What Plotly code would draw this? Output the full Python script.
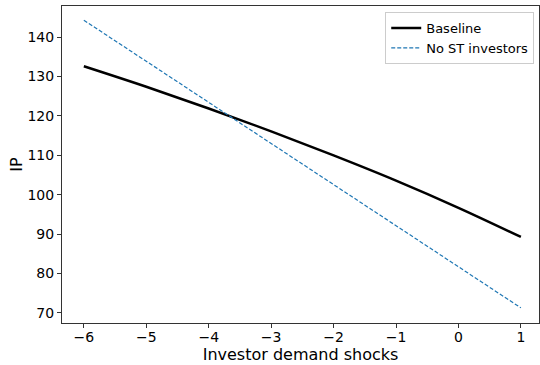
import plotly.graph_objects as go

shocks = [-6, -5, -4, -3, -2, -1, 0, 1]
baseline = [132.6, 127.4, 121.9, 116.1, 110.0, 103.6, 96.7, 89.3]
no_st = [144.3, 133.87, 123.44, 113.01, 102.59, 92.16, 81.73, 71.3]
xticks = [-6, -5, -4, -3, -2, -1, 0, 1]
yticks = [70, 80, 90, 100, 110, 120, 130, 140]

fig = go.Figure()
fig.add_trace(go.Scatter(x=shocks, y=baseline, mode="lines", name="Baseline",
                         line=dict(color="black", width=2.5, shape="spline")))
fig.add_trace(go.Scatter(x=shocks, y=no_st, mode="lines", name="No ST investors",
                         line=dict(color="#1f77b4", width=1.2, dash="4px,2px")))

axis_common = dict(showgrid=False, zeroline=False, showline=True, linecolor="#333333",
                   linewidth=1, mirror=True, ticks="outside", ticklen=4,
                   tickcolor="#333333", tickfont=dict(size=14, color="black"))
fig.update_xaxes(range=[-6.35, 1.29], tickvals=xticks,
                 ticktext=[("\u2212" + str(-v)) if v < 0 else str(v) for v in xticks],
                 title=dict(text="Investor demand shocks", font=dict(size=16, color="black"), standoff=2),
                 automargin=False, ticklabelstandoff=-3,
                 **axis_common)
fig.update_yaxes(range=[67.46, 147.9], tickvals=yticks,
                 title=dict(text="IP", font=dict(size=16, color="black"), standoff=0),
                 automargin=True,
                 **axis_common)
fig.update_layout(width=540, height=365, margin=dict(l=62, r=1, t=6, b=42, autoexpand=False),
                  paper_bgcolor="white", plot_bgcolor="white",
                  font=dict(family="DejaVu Sans", color="black"),
                  legend=dict(x=0.99, y=0.981, xanchor="right", yanchor="top",
                              bordercolor="#cccccc", borderwidth=1, bgcolor="white",
                              font=dict(size=13), tracegroupgap=0),
                  showlegend=True)
fig.write_html("out.html", config={"displayModeBar": False},
               post_script="document.body.style.margin='0';document.body.style.overflow='hidden';")
